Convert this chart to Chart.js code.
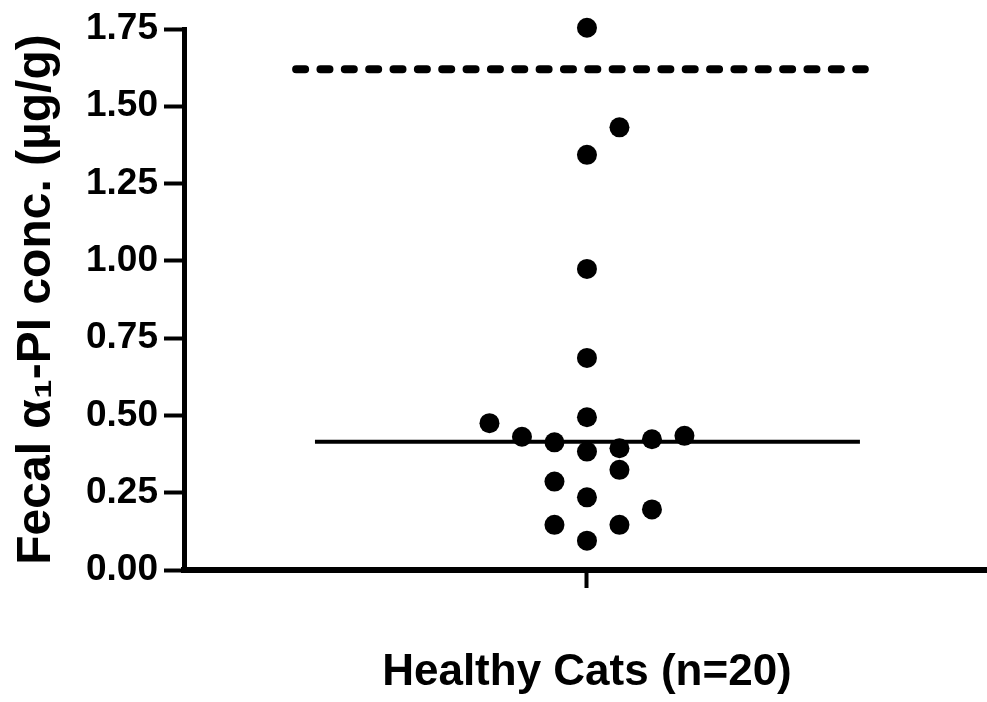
<!DOCTYPE html>
<html>
<head>
<meta charset="utf-8">
<script src="https://cdn.jsdelivr.net/npm/chart.js@4.4.1/dist/chart.umd.min.js"></script>
<style>
    html, body { margin: 0; padding: 0; background: #fff; overflow: hidden; }
    #wrap { width: 987px; height: 702px; }
    #dotChart { display: block; }
</style>
</head>
<body>
<div id="wrap"><canvas id="dotChart"></canvas></div>
<script>
// group on the x axis
const groupLabel = "Healthy Cats (n=20)";
const yTickValues = [0, 0.25, 0.5, 0.75, 1.0, 1.25, 1.5, 1.75];

// fecal a1-PI values, one per cat
const catValues = [1.754, 1.432, 1.343, 0.974, 0.686, 0.494, 0.475, 0.431, 0.434, 0.423,
                   0.413, 0.394, 0.383, 0.324, 0.286, 0.235, 0.196, 0.146, 0.146, 0.095];
// column slot of each dot (scatter jitter as drawn)
const catColumns = [0, 1, 0, 0, 0, 0, -3, -2, 3, 2,
                    -1, 1, 0, 1, -1, 0, 2, -1, 1, 0];

const medianValue = 0.415;
const cutoffValue = 1.62;   // upper reference limit (dashed)
const medianSpan = [-8.37, 8.4];
const cutoffSpan = [-8.95, 8.55];

Chart.defaults.font.family = "'Liberation Sans', Arial, sans-serif";
Chart.defaults.color = "#000";

const ctx = document.getElementById("dotChart");

new Chart(ctx, {
    type: "scatter",
    data: {
        datasets: [
            {
                label: "Cats",
                data: catValues.map((v, i) => ({ x: catColumns[i], y: v })),
                backgroundColor: "#000",
                borderWidth: 0,
                pointRadius: 10,
                clip: false
            },
            {
                label: "Median",
                type: "line",
                data: medianSpan.map(x => ({ x: x, y: medianValue })),
                borderColor: "#000",
                borderWidth: 4,
                pointRadius: 0
            },
            {
                label: "Cutoff",
                type: "line",
                data: cutoffSpan.map(x => ({ x: x, y: cutoffValue })),
                borderColor: "#000",
                borderWidth: 8,
                borderDash: [9, 15.35],
                borderCapStyle: "round",
                pointRadius: 0
            }
        ]
    },
    options: {
        responsive: true,
        maintainAspectRatio: false,
        animation: false,
        layout: { autoPadding: false, padding: { top: 29, right: 0, left: 0, bottom: 0 } },
        plugins: {
            legend: { display: false },
            tooltip: { enabled: false }
        },
        scales: {
            x: {
                type: "linear",
                min: -12.4,
                max: 12.31,
                afterBuildTicks: (axis) => { axis.ticks = [{ value: 0 }]; },
                afterFit: (axis) => { axis.height = 132; },
                ticks: {
                    callback: (value) => value === 0 ? groupLabel : "",
                    font: { size: 44, weight: "bold" },
                    padding: 58,
                    maxRotation: 0,
                    autoSkip: false
                },
                grid: {
                    drawOnChartArea: false,
                    drawTicks: true,
                    tickLength: 18,
                    tickWidth: 4,
                    tickColor: "#000"
                },
                border: { color: "#000", width: 6 }
            },
            y: {
                min: 0,
                max: 1.75,
                afterBuildTicks: (axis) => { axis.ticks = yTickValues.map(v => ({ value: v })); },
                afterFit: (axis) => { axis.width = 184; },
                ticks: {
                    callback: (value) => value.toFixed(2),
                    font: { size: 37, weight: "bold" },
                    padding: 6
                },
                grid: {
                    drawOnChartArea: false,
                    drawTicks: true,
                    tickLength: 20,
                    tickWidth: 4,
                    tickColor: "#000"
                },
                border: { color: "#000", width: 5 },
                title: {
                    display: true,
                    text: "Fecal \u03B1\u2081-PI conc. (\u00B5g/g)",
                    font: { size: 48, weight: "bold" },
                    padding: { top: 8, bottom: 0 }
                }
            }
        }
    }
});
</script>
</body>
</html>
